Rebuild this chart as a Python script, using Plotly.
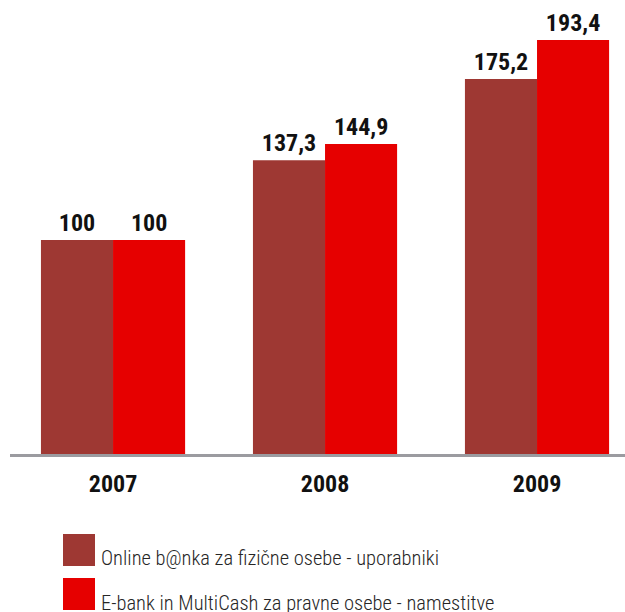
import plotly.graph_objects as go

# Data
years = ["2007", "2008", "2009"]
online_banka = [100, 137.3, 175.2]
ebank_multicash = [100, 144.9, 193.4]
series_names = [
    "Online b@nka za fizične osebe - uporabniki",
    "E-bank in MultiCash za pravne osebe - namestitve",
]
series_colors = ["#9E3833", "#E60000"]

W, H = 625, 612
M_L, M_R, M_T, M_B = 10, 0, 20, 158
PLOT_W = W - M_L - M_R
PLOT_H = H - M_T - M_B

LABEL_FONT = "Roboto Condensed, Open Sans Condensed, sans-serif"


def fmt(v):
    # decimal comma, integers without decimals
    return str(int(v)) if float(v).is_integer() else f"{v:.1f}".replace(".", ",")


fig = go.Figure()
for name, vals, col in zip(series_names, [online_banka, ebank_multicash], series_colors):
    fig.add_trace(
        go.Bar(
            x=years,
            y=vals,
            name=name,
            marker=dict(color=col, line=dict(width=0)),
            text=[fmt(v) for v in vals],
            textposition="outside",
            cliponaxis=False,
            textfont=dict(family=LABEL_FONT, size=24, color="#111111", weight="bold"),
        )
    )


# Legend drawn as large swatches with text beside them
def px_x(p):
    return (p - M_L) / PLOT_W


def px_y(p):
    return (M_T + PLOT_H - p) / PLOT_H


shapes = []
annotations = []
swatch_tops = [534, 578]
text_mid = [558, 603]
for top, mid, name, col in zip(swatch_tops, text_mid, series_names, series_colors):
    shapes.append(
        dict(
            type="rect", xref="paper", yref="paper",
            x0=px_x(63), x1=px_x(95), y0=px_y(top), y1=px_y(top + 32),
            fillcolor=col, line=dict(width=0),
        )
    )
    annotations.append(
        dict(
            xref="paper", yref="paper", x=px_x(99), y=px_y(mid),
            xanchor="left", yanchor="middle", showarrow=False,
            text=name, font=dict(family=LABEL_FONT, size=20.5, color="#262626", weight=300),
        )
    )

fig.update_layout(
    width=W,
    height=H,
    margin=dict(l=M_L, r=M_R, t=M_T, b=M_B, pad=0),
    paper_bgcolor="white",
    plot_bgcolor="white",
    barmode="group",
    bargap=0.32,
    bargroupgap=0,
    showlegend=False,
    shapes=shapes,
    annotations=annotations,
    uniformtext=dict(mode=False),
)
fig.update_xaxes(
    type="category",
    range=[-0.486, 2.415],
    showline=True,
    linecolor="#9B9BA0",
    linewidth=2.5,
    showgrid=False,
    ticks="outside",
    ticklen=6,
    tickcolor="rgba(0,0,0,0)",
    tickfont=dict(family=LABEL_FONT, size=24, color="#111111", weight="bold"),
)
fig.update_yaxes(
    range=[0, PLOT_H / 2.14],
    visible=False,
    showgrid=False,
    zeroline=False,
)

fig.write_html("out.html")
